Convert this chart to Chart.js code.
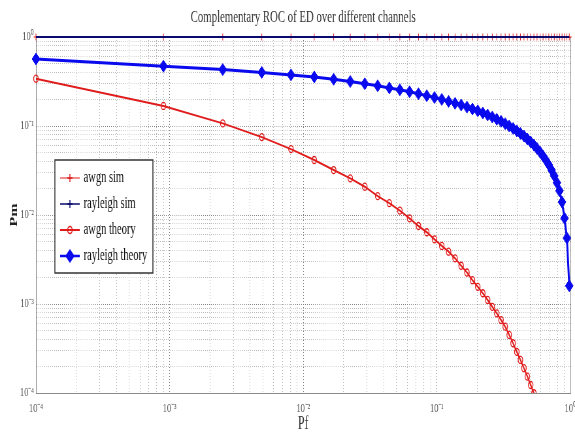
<!DOCTYPE html>
<html>
<head>
<meta charset="utf-8">
<title>Complementary ROC of ED over different channels</title>
<script src="https://cdn.jsdelivr.net/npm/chart.js@4.4.1/dist/chart.umd.min.js"></script>
<style>
  html, body { margin: 0; padding: 0; background: #fff; overflow: hidden; }
  /* the figure is drawn wide and squeezed sideways, like the original image */
  #wrap { width: 880px; height: 437px; transform: scaleX(0.65341); transform-origin: 0 0; }
</style>
</head>
<body>
<div id="wrap"><canvas id="roc"></canvas></div>
<script>
// probability of false alarm (x)
const pf = [0.0001, 0.0009, 0.0025, 0.0049, 0.0081, 0.0121, 0.0169, 0.0225, 0.0289, 0.0361,
  0.0441, 0.0529, 0.0625, 0.0729, 0.0841, 0.0961, 0.1089, 0.1225, 0.1369, 0.1521,
  0.1681, 0.1849, 0.2025, 0.2209, 0.2401, 0.2601, 0.2809, 0.3025, 0.3249, 0.3481,
  0.3721, 0.3969, 0.4225, 0.4489, 0.4761, 0.5041, 0.5329, 0.5625, 0.5929, 0.6241,
  0.6561, 0.6889, 0.7225, 0.7569, 0.7921, 0.8281, 0.8649, 0.9025, 0.9409, 0.9801];

// probability of missed detection (y)
const awgnSim = [1, 1, 1, 1, 1, 1, 1, 1, 1, 1, 1, 1, 1, 1, 1, 1, 1, 1, 1, 1, 1, 1, 1, 1, 1,
  1, 1, 1, 1, 1, 1, 1, 1, 1, 1, 1, 1, 1, 1, 1, 1, 1, 1, 1, 1, 1, 1, 1, 1, 1];
const rayleighSim = [1, 1, 1, 1, 1, 1, 1, 1, 1, 1, 1, 1, 1, 1, 1, 1, 1, 1, 1, 1, 1, 1, 1, 1, 1,
  1, 1, 1, 1, 1, 1, 1, 1, 1, 1, 1, 1, 1, 1, 1, 1, 1, 1, 1, 1, 1, 1, 1, 1, 1];
const awgnTheory = [0.34, 0.168, 0.107, 0.075, 0.055, 0.0415, 0.032, 0.0258, 0.0208, 0.0163,
  0.0136, 0.0112, 0.00918, 0.00752, 0.0064, 0.00533, 0.00449, 0.00387, 0.00326, 0.00269,
  0.00226, 0.00185, 0.00156, 0.00132, 0.00111, 0.00093, 0.000785, 0.00066, 0.000556, 0.000449,
  0.000362, 0.00029, 0.000235, 0.00019, 0.000153, 0.000123, 0.0000993, 0.00008];
const rayleighTheory = [0.566, 0.47, 0.43, 0.4, 0.375, 0.356, 0.335, 0.316, 0.298, 0.283,
  0.268, 0.255, 0.242, 0.23, 0.219, 0.209, 0.199, 0.189, 0.18, 0.172,
  0.163, 0.155, 0.148, 0.14, 0.133, 0.126, 0.119, 0.113, 0.106, 0.1,
  0.094, 0.088, 0.0826, 0.077, 0.0715, 0.0662, 0.061, 0.0559, 0.0509, 0.046,
  0.0412, 0.0366, 0.032, 0.0275, 0.023, 0.0187, 0.014, 0.0092, 0.0055, 0.0016];

// decade ticks and their labels
const decades = [0.0001, 0.001, 0.01, 0.1, 1];
const decadeLabels = ['10⁻⁴', '10⁻³', '10⁻²', '10⁻¹', '10⁰'];

const serif = "'Liberation Serif', 'Times New Roman', serif";
const RED = '#e01b1b';
const BLUE = '#0a0aee';
const NAVY = '#0a0a6e';

const toPoints = (ys) => ys.map((y, i) => ({ x: pf[i], y: y }));

const decadeLabel = (value) => {
  const i = decades.findIndex((d) => Math.abs(value - d) < d * 1e-6);
  return i >= 0 ? decadeLabels[i] : '';
};

// keep 1..9 x 10^n ticks only (drops the 1.5 x 10^n ones)
const keepWholeTicks = (scale) => {
  scale.ticks = scale.ticks.filter((t) => {
    const m = t.value / Math.pow(10, Math.floor(Math.log10(t.value) + 1e-9));
    return Math.abs(m - Math.round(m)) < 1e-6;
  });
};

const gridColor = (ctx) => (ctx.tick && decadeLabel(ctx.tick.value) ? '#7a7a7a' : '#b4b4b4');

function legendIcon(color, lineWidth, style, radius, fill) {
  const c = document.createElement('canvas');
  c.width = 30;
  c.height = 16;
  const g = c.getContext('2d');
  g.strokeStyle = color;
  g.lineWidth = lineWidth;
  g.beginPath();
  g.moveTo(0, 8);
  g.lineTo(30, 8);
  g.stroke();
  g.fillStyle = fill;
  g.lineWidth = 1.5;
  Chart.helpers.drawPoint(g, { pointStyle: style, radius: radius, borderWidth: 1.5, rotation: 0 }, 15, 8);
  return c;
}

const icons = [
  legendIcon(RED, 1, 'cross', 4, RED),
  legendIcon(NAVY, 1.5, 'cross', 4, NAVY),
  legendIcon(RED, 2, 'circle', 3.5, 'rgba(0,0,0,0)'),
  legendIcon(BLUE, 2.5, 'rectRot', 6, BLUE),
];

// white framed box behind the legend, then the legend again on top
const FRAME = { dx: 29, top: 160, w: 150, h: 113 };
const legendFrame = {
  id: 'legendFrame',
  afterLayout(chart) {
    const lg = chart.legend;
    lg.left = chart.chartArea.left + FRAME.dx;
    lg.top = FRAME.top;
    lg.width = FRAME.w;
    lg.height = 200;
    lg.right = lg.left + lg.width;
    lg.bottom = lg.top + lg.height;
  },
  beforeDatasetsDraw(chart) {
    const lg = chart.legend;
    const ctx = chart.ctx;
    ctx.save();
    ctx.fillStyle = '#fff';
    ctx.fillRect(lg.left, FRAME.top, FRAME.w, FRAME.h);
    ctx.strokeStyle = '#333';
    ctx.lineWidth = 1.5;
    ctx.strokeRect(lg.left, FRAME.top, FRAME.w, FRAME.h);
    ctx.restore();
    lg.draw();
  },
};

const tickFont = { family: serif, size: 13 };

const frameAxis = (position, fit) => ({
  type: 'logarithmic',
  position: position,
  min: 0.0001,
  max: 1,
  afterFit: fit,
  border: { display: true, color: '#8a8a8a', width: 1 },
  grid: { display: false, drawTicks: false },
  ticks: { display: false },
});

new Chart(document.getElementById('roc'), {
  type: 'line',
  data: {
    datasets: [
      {
        label: 'awgn sim',
        data: toPoints(awgnSim),
        borderColor: RED,
        backgroundColor: RED,
        borderWidth: 1,
        pointStyle: 'cross',
        pointRadius: 3.5,
        pointBorderWidth: 1,
        clip: false,
        order: 4,
      },
      {
        label: 'rayleigh sim',
        data: toPoints(rayleighSim),
        borderColor: NAVY,
        backgroundColor: NAVY,
        borderWidth: 2,
        pointRadius: 0,
        clip: false,
        order: 3,
      },
      {
        label: 'awgn theory',
        data: toPoints(awgnTheory),
        borderColor: RED,
        backgroundColor: 'rgba(0,0,0,0)',
        borderWidth: 2,
        pointStyle: 'circle',
        pointRadius: 3.5,
        pointBorderWidth: 1.3,
        clip: { left: 10, top: 10, right: 10, bottom: 0 },
        order: 2,
      },
      {
        label: 'rayleigh theory',
        data: toPoints(rayleighTheory),
        borderColor: BLUE,
        backgroundColor: BLUE,
        borderWidth: 3,
        pointStyle: 'rectRot',
        pointRadius: 6,
        pointBorderWidth: 1,
        clip: false,
        order: 1,
      },
    ],
  },
  options: {
    responsive: true,
    maintainAspectRatio: false,
    devicePixelRatio: 1,
    animation: false,
    layout: { padding: 0 },
    elements: { line: { tension: 0 } },
    scales: {
      x: {
        type: 'logarithmic',
        position: 'bottom',
        min: 0.0001,
        max: 1,
        afterBuildTicks: keepWholeTicks,
        afterFit: (s) => { s.height = 44; s.paddingLeft = 0; s.paddingRight = 0; },
        border: { display: true, color: '#8a8a8a', width: 1, dash: [1, 2] },
        grid: { color: gridColor, lineWidth: 1, drawTicks: false },
        ticks: { autoSkip: false, maxRotation: 0, color: '#555', font: tickFont, padding: 8, callback: decadeLabel },
        title: {
          display: true,
          text: 'Pf',
          color: '#333',
          font: { family: serif, size: 18 },
          padding: { top: 0, bottom: 2 },
        },
      },
      y: {
        type: 'logarithmic',
        position: 'left',
        min: 0.0001,
        max: 1,
        afterBuildTicks: keepWholeTicks,
        afterFit: (s) => { s.width = 55; s.paddingTop = 0; s.paddingBottom = 0; },
        border: { display: true, color: '#8a8a8a', width: 1, dash: [1, 2] },
        grid: { color: gridColor, lineWidth: 1, drawTicks: false },
        ticks: { autoSkip: false, color: '#555', font: tickFont, padding: 3, callback: decadeLabel },
        title: {
          display: true,
          text: 'Pm',
          color: '#222',
          font: { family: serif, size: 16, weight: 'bold' },
          padding: { top: 12, bottom: 0 },
        },
      },
      x2: frameAxis('top', (s) => { s.height = 0; s.paddingLeft = 0; s.paddingRight = 0; }),
      y2: frameAxis('right', (s) => { s.width = 5; s.paddingTop = 0; s.paddingBottom = 0; }),
    },
    plugins: {
      title: {
        display: true,
        fullSize: false,
        text: 'Complementary ROC of ED over different channels',
        color: '#333',
        font: { family: serif, size: 16.5, weight: 'normal' },
        padding: { top: 7.6, bottom: 9.6 },
      },
      legend: {
        position: 'chartArea',
        align: 'start',
        labels: {
          usePointStyle: true,
          pointStyleWidth: 26,
          padding: 10,
          color: '#111',
          font: { family: serif, size: 16 },
          sort: (a, b) => a.datasetIndex - b.datasetIndex,
          generateLabels: (chart) => {
            const items = Chart.defaults.plugins.legend.labels.generateLabels(chart);
            items.forEach((item) => { item.pointStyle = icons[item.datasetIndex]; });
            return items;
          },
        },
      },
      tooltip: { enabled: false },
    },
  },
  plugins: [legendFrame],
});
</script>
</body>
</html>
